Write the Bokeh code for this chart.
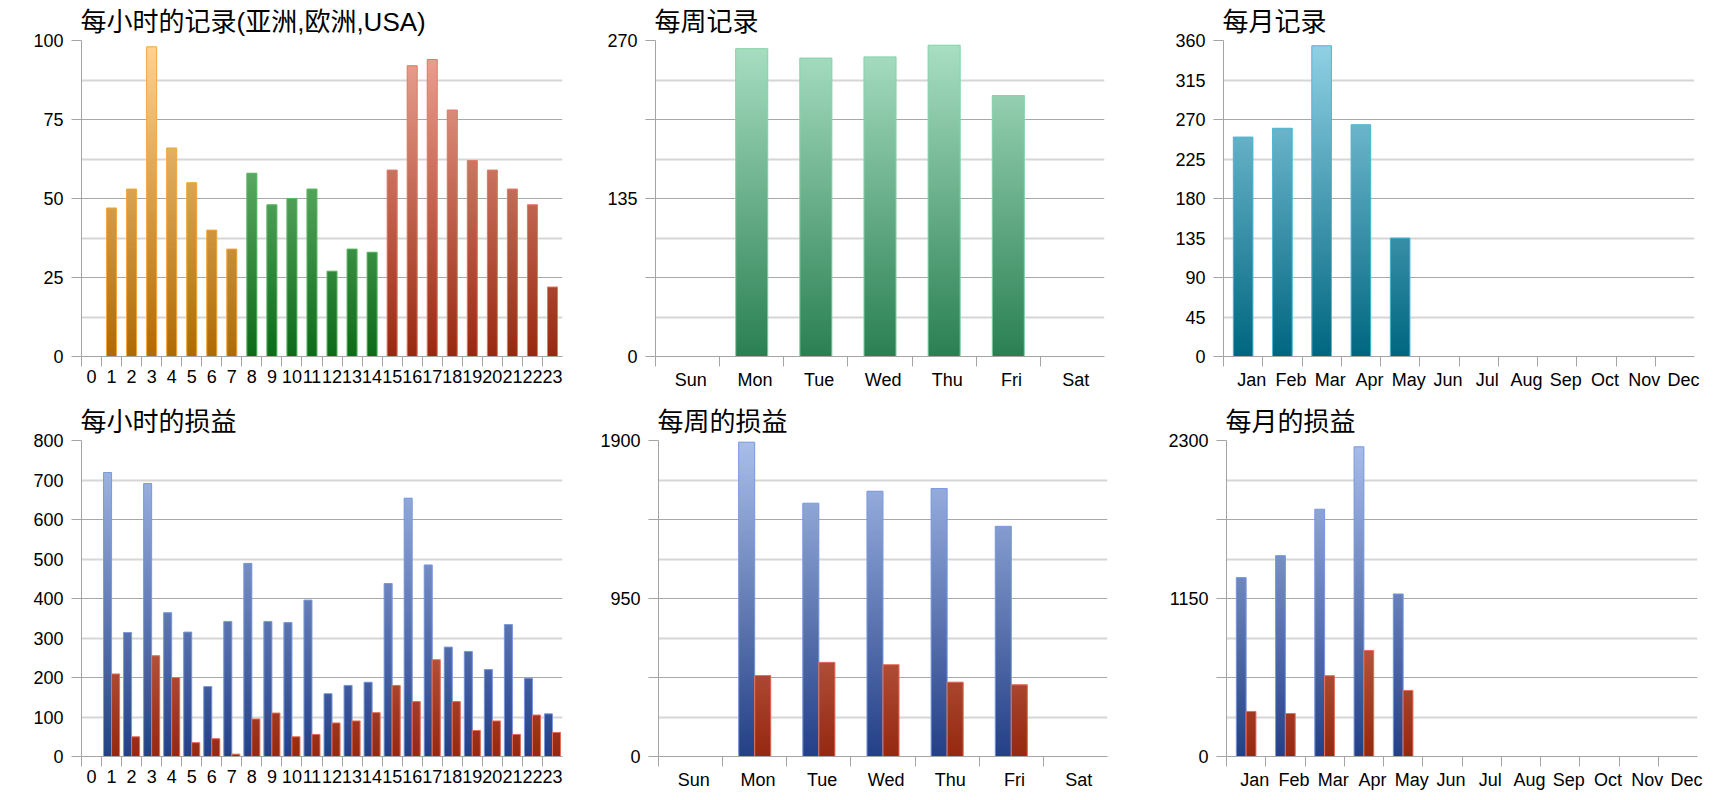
from bokeh.plotting import figure
from bokeh.layouts import column, row
from bokeh.models import FixedTicker, Range1d
from bokeh.embed import file_html
from bokeh.resources import INLINE

# ---------------- data ----------------
hours = [str(h) for h in range(24)]
hour_region = ["Asia"] * 8 + ["Europe"] * 7 + ["USA"] * 9
hourly_records = [0, 47, 53, 98, 66, 55, 40, 34, 58, 48, 50, 53, 27, 34, 33,
                  59, 92, 94, 78, 62, 59, 53, 48, 22]

weekdays = ["Sun", "Mon", "Tue", "Wed", "Thu", "Fri", "Sat"]
weekly_records = [0, 263, 255, 256, 266, 223, 0]

months = ["Jan", "Feb", "Mar", "Apr", "May", "Jun", "Jul", "Aug", "Sep", "Oct", "Nov", "Dec"]
monthly_records = [250, 260, 354, 264, 135, 0, 0, 0, 0, 0, 0, 0]

hourly_profit = [0, 719, 314, 691, 364, 315, 177, 342, 489, 342, 339, 396, 159, 180, 188,
                 438, 654, 485, 277, 266, 220, 334, 198, 108]
hourly_loss = [0, 209, 50, 255, 200, 35, 45, 6, 95, 110, 50, 56, 85, 90, 111,
               180, 139, 245, 139, 66, 90, 56, 105, 61]

weekly_profit = [0, 1890, 1523, 1595, 1611, 1384, 0]
weekly_loss = [0, 487, 566, 552, 447, 431, 0]

monthly_profit = [1302, 1462, 1800, 2254, 1183, 0, 0, 0, 0, 0, 0, 0]
monthly_loss = [328, 313, 588, 772, 481, 0, 0, 0, 0, 0, 0, 0]

titles = ["每小时的记录(亚洲,欧洲,USA)", "每周记录", "每月记录",
          "每小时的损益", "每周的损益", "每月的损益"]

# ---------------- styles ----------------
TITLE_FONT = "Liberation Sans, Noto Sans CJK SC"
LABEL_FONT = "Liberation Sans"
AXIS_COLOR = "#a4a4a4"
MAJOR_GRID = "#a8a8a8"
MINOR_GRID = "#d6d6d6"

PAL = {
    "Asia": ("#ae6a04", "#fdd596", "#f4a83c"),
    "Europe": ("#0c6a18", "#93d496", "#5cba62"),
    "USA": ("#982810", "#eca696", "#e07b6a"),
    "week": ("#2a7f52", "#aae0c4", "#86d4a8"),
    "month": ("#006680", "#92d2e6", "#4cb8d8"),
    "profit": ("#233f86", "#a9bfea", "#7a9ae0"),
    "loss": ("#952810", "#eca696", "#e8705a"),
}


def hex2rgb(h):
    h = h.lstrip("#")
    return tuple(int(h[i:i + 2], 16) for i in (0, 2, 4))


def mix(c0, c1, t):
    a, b = hex2rgb(c0), hex2rgb(c1)
    return "#%02x%02x%02x" % tuple(int(round(a[i] + (b[i] - a[i]) * t)) for i in range(3))


def make_fig(title, n_cat, y_max, labels_y, dark_y, light_y, cats, label_shift,
             fw, fh, bl, br, bt, bb):
    p = figure(frame_width=fw, frame_height=fh, output_backend="svg", toolbar_location=None,
               x_range=Range1d(0, n_cat), y_range=Range1d(0, y_max),
               min_border_left=bl, min_border_right=br, min_border_top=bt, min_border_bottom=bb,
               outline_line_color=None, background_fill_color="white", border_fill_color="white")
    p.title.text = title
    p.title.text_font = TITLE_FONT
    p.title.text_font_size = "26px"
    p.title.text_font_style = "normal"
    p.title.text_color = "#000000"
    p.title.align = "left"
    p.title.offset = -1
    p.title.standoff = 8

    # x axis: labels at category centers, tick marks at category boundaries
    centers = [i + 0.5 + label_shift for i in range(n_cat)]
    xa = p.xaxis[0]
    xa.ticker = FixedTicker(ticks=centers, minor_ticks=list(range(n_cat)))
    xa.major_label_overrides = {c: cats[i] for i, c in enumerate(centers)}
    xa.major_tick_out = 0
    xa.major_tick_in = 0
    xa.minor_tick_out = 10
    xa.minor_tick_in = 0
    xa.minor_tick_line_color = AXIS_COLOR
    xa.axis_line_color = AXIS_COLOR
    xa.major_label_standoff = 3
    xa.major_label_text_font = LABEL_FONT
    xa.major_label_text_font_size = "18px"
    xa.major_label_text_color = "#000000"

    # y axis: labelled values, tick marks on the darker grid lines
    ya = p.yaxis[0]
    ya.ticker = FixedTicker(ticks=labels_y, minor_ticks=dark_y)
    ya.major_label_overrides = {v: ("%g" % v) for v in labels_y}
    ya.major_tick_out = 0
    ya.major_tick_in = 0
    ya.minor_tick_out = 10
    ya.minor_tick_in = 0
    ya.minor_tick_line_color = AXIS_COLOR
    ya.axis_line_color = AXIS_COLOR
    ya.major_label_standoff = 8
    ya.major_label_text_font = LABEL_FONT
    ya.major_label_text_font_size = "18px"
    ya.major_label_text_color = "#000000"

    p.xgrid.visible = False
    yg = p.ygrid[0]
    yg.ticker = FixedTicker(ticks=dark_y, minor_ticks=light_y)
    yg.grid_line_color = MAJOR_GRID
    yg.grid_line_width = 1
    yg.minor_grid_line_color = MINOR_GRID
    yg.minor_grid_line_width = 2
    return p


def gradient_bars(p, xs, vals, bar_w, y_max, pal_keys, n=96):
    """Bars filled with a vertical gradient (colour depends on height in the plot)."""
    L, R, B, T, C = [], [], [], [], []
    ox, ow, ot, oc = [], [], [], []
    step = y_max / n
    for x, v, key in zip(xs, vals, pal_keys):
        if v <= 0:
            continue
        c0, c1, edge = PAL[key]
        k = 0
        while k * step < v:
            y0 = k * step
            y1 = min((k + 1) * step, v)
            t = ((y0 + y1) / 2.0) / y_max
            L.append(x - bar_w / 2)
            R.append(x + bar_w / 2)
            B.append(y0)
            # overlap into the next slice (drawn later) to avoid seams
            T.append(min(y1 + step * 0.8, v))
            C.append(mix(c0, c1, t))
            k += 1
        ox.append(x)
        ow.append(bar_w)
        ot.append(v)
        oc.append(edge)
    p.quad(left=L, right=R, bottom=B, top=T, fill_color=C, line_color=None)
    p.vbar(x=ox, width=ow, top=ot, bottom=0, fill_color=None, line_color=oc, line_width=1)


def steps(top, k):
    return [top * i / k for i in range(k + 1)]


def mids(top, k):
    return [top * (i + 0.5) / k for i in range(k)]


# column geometry: (frame width, left border, right border)
COLS = [(481, 81, 35), (449, 58, 54), (471, 65, 10)]
# row geometry: (frame height, top border, bottom border)
ROWS = [(316, 40, 41), (316, 43, 33)]

# ---- row 1 ----
fh, bt, bb = ROWS[0]
fw, bl, br = COLS[0]
p1 = make_fig(titles[0], 24, 100, steps(100, 4), steps(100, 4), mids(100, 4), hours, 0.0,
              fw, fh, bl, br, bt, bb)
gradient_bars(p1, [i + 0.5 for i in range(24)], hourly_records, 0.5, 100, hour_region)

fw, bl, br = COLS[1]
p2 = make_fig(titles[1], 7, 270, steps(270, 2), steps(270, 4), mids(270, 4), weekdays, 0.05,
              fw, fh, bl, br, bt, bb)
gradient_bars(p2, [i + 0.5 for i in range(7)], weekly_records, 0.5, 270, ["week"] * 7)

fw, bl, br = COLS[2]
p3 = make_fig(titles[2], 12, 360, steps(360, 8), steps(360, 4), mids(360, 4), months, 0.22,
              fw, fh, bl, br, bt, bb)
gradient_bars(p3, [i + 0.5 for i in range(12)], monthly_records, 0.5, 360, ["month"] * 12)

# ---- row 2 ----
fh, bt, bb = ROWS[1]
fw, bl, br = COLS[0]
p4 = make_fig(titles[3], 24, 800, steps(800, 8), steps(800, 4), mids(800, 4), hours, 0.0,
              fw, fh, bl, br, bt, bb)
gradient_bars(p4, [i + 0.3 for i in range(24)], hourly_profit, 0.4, 800, ["profit"] * 24)
gradient_bars(p4, [i + 0.7 for i in range(24)], hourly_loss, 0.4, 800, ["loss"] * 24)

fw, bl, br = COLS[1]
p5 = make_fig(titles[4], 7, 1900, steps(1900, 2), steps(1900, 4), mids(1900, 4), weekdays, 0.05,
              fw, fh, bl, br, bt, bb)
gradient_bars(p5, [i + 0.375 for i in range(7)], weekly_profit, 0.25, 1900, ["profit"] * 7)
gradient_bars(p5, [i + 0.625 for i in range(7)], weekly_loss, 0.25, 1900, ["loss"] * 7)

fw, bl, br = COLS[2]
p6 = make_fig(titles[5], 12, 2300, steps(2300, 2), steps(2300, 4), mids(2300, 4), months, 0.22,
              fw, fh, bl, br, bt, bb)
gradient_bars(p6, [i + 0.375 for i in range(12)], monthly_profit, 0.25, 2300, ["profit"] * 12)
gradient_bars(p6, [i + 0.625 for i in range(12)], monthly_loss, 0.25, 2300, ["loss"] * 12)

layout = column(row(p1, p2, p3), row(p4, p5, p6))

open("out.html", "w").write(file_html(layout, INLINE))
